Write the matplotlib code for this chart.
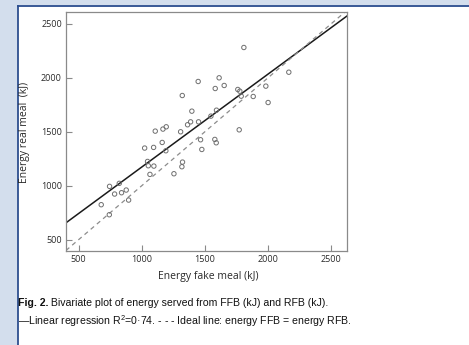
"""Bivariate plot of energy served from fake vs real food buffet."""
import matplotlib

matplotlib.use("Agg")
import matplotlib.pyplot as plt
from matplotlib.text import Annotation
import numpy as np

plt.rcParams["mathtext.fontset"] = "custom"
plt.rcParams["mathtext.rm"] = "Liberation Sans"

# energy served (kJ)
fake_meal = [679, 745, 743, 785, 822, 840, 877, 896, 1023, 1046, 1052, 1065,
             1094, 1096, 1107, 1162, 1168, 1194, 1191, 1255, 1308, 1318, 1323,
             1321, 1363, 1387, 1397, 1450, 1447, 1466, 1476, 1548, 1582, 1579,
             1590, 1592, 1613, 1653, 1761, 1777, 1788, 1772, 1809, 1883, 1983,
             2001, 2165]
real_meal = [824, 994, 731, 923, 1022, 935, 960, 867, 1349, 1225, 1185, 1105,
             1355, 1182, 1506, 1401, 1525, 1546, 1324, 1111, 1500, 1176, 1219,
             1836, 1565, 1592, 1691, 1592, 1966, 1426, 1336, 1645, 1901, 1429,
             1398, 1700, 2000, 1929, 1892, 1876, 1830, 1518, 2281, 1827, 1923,
             1771, 2052]

reg_slope = 0.861
reg_intercept = 312
x_limits = [400, 2626]
y_limits = [395, 2610]
ticks = [500, 1000, 1500, 2000, 2500]

BG_BLUE = "#d3deed"
LINE_BLUE = "#2d4f8f"
SPINE = "#8a8a8a"
TEXT = "#2a2a2a"

fig = plt.figure(figsize=(4.69, 3.45), dpi=100)

# page frame: light blue margin with a dark blue rule
fig.patches.append(plt.Rectangle((0, 0), 1, 1, transform=fig.transFigure,
                                 facecolor=BG_BLUE, edgecolor="none", zorder=-3))
fig.patches.append(plt.Rectangle((18 / 469, 0), 1, 1 - 7 / 345,
                                 transform=fig.transFigure, facecolor="white",
                                 edgecolor="none", zorder=-2))
fig.add_artist(plt.Line2D([17.5 / 469, 17.5 / 469], [0, 1 - 6 / 345],
                          transform=fig.transFigure, color=LINE_BLUE, lw=1.3))
fig.add_artist(plt.Line2D([17.5 / 469, 1], [1 - 6 / 345, 1 - 6 / 345],
                          transform=fig.transFigure, color=LINE_BLUE, lw=1.3))

ax = fig.add_axes([66 / 469, 1 - 251 / 345, 281 / 469, 239 / 345])
ax.set_facecolor("white")

ax.scatter(fake_meal, real_meal, s=10, facecolors="none", edgecolors="#6e6e6e",
           linewidths=0.7, zorder=3)

xs = np.array(x_limits)
ax.plot(xs, reg_slope * xs + reg_intercept, color="#1a1a1a", lw=1.1, zorder=2)
ax.plot([x_limits[0], y_limits[1]], [x_limits[0], y_limits[1]], color="#8c8c8c",
        lw=0.9, ls=(0, (3.5, 3)), zorder=2)

ax.set_xlim(x_limits)
ax.set_ylim(y_limits)
ax.set_xticks(ticks)
ax.set_yticks(ticks)
ax.tick_params(direction="in", length=4, width=0.8, color=SPINE,
               labelsize=6.5, labelcolor=TEXT, pad=3)
for label in ax.get_xticklabels() + ax.get_yticklabels():
    label.set_family("Open Sans")
for spine in ax.spines.values():
    spine.set_color(SPINE)
    spine.set_linewidth(0.9)

fig.text(208 / 469, 1 - 276 / 345, "Energy fake meal (kJ)", family="Open Sans",
         fontsize=7.5, color=TEXT, ha="center", va="center")
fig.text(24 / 469, 1 - 132 / 345, "Energy real meal  (kJ)", family="Open Sans",
         fontsize=7.5, color=TEXT, ha="center", va="center", rotation=90)

# caption
bold = fig.text(18 / 469, 1 - 303 / 345, "Fig. 2.", fontsize=7.6, weight="bold",
                family="Liberation Sans", va="center", ha="left", color="#111111")
fig.add_artist(Annotation(
    " Bivariate plot of energy served from FFB (kJ) and RFB (kJ).",
    xy=(1, 0.5), xycoords=bold, va="center", ha="left", fontsize=7.6,
    family="Liberation Sans", color="#111111"))
fig.text(18 / 469, 1 - 321 / 345,
         "\u2014Linear regression R$^2$=0\u00b774. - - - Ideal line: energy FFB = energy RFB.",
         fontsize=7.6, family="Liberation Sans", va="center", ha="left",
         color="#111111")

fig.savefig("out.png", dpi=100)
